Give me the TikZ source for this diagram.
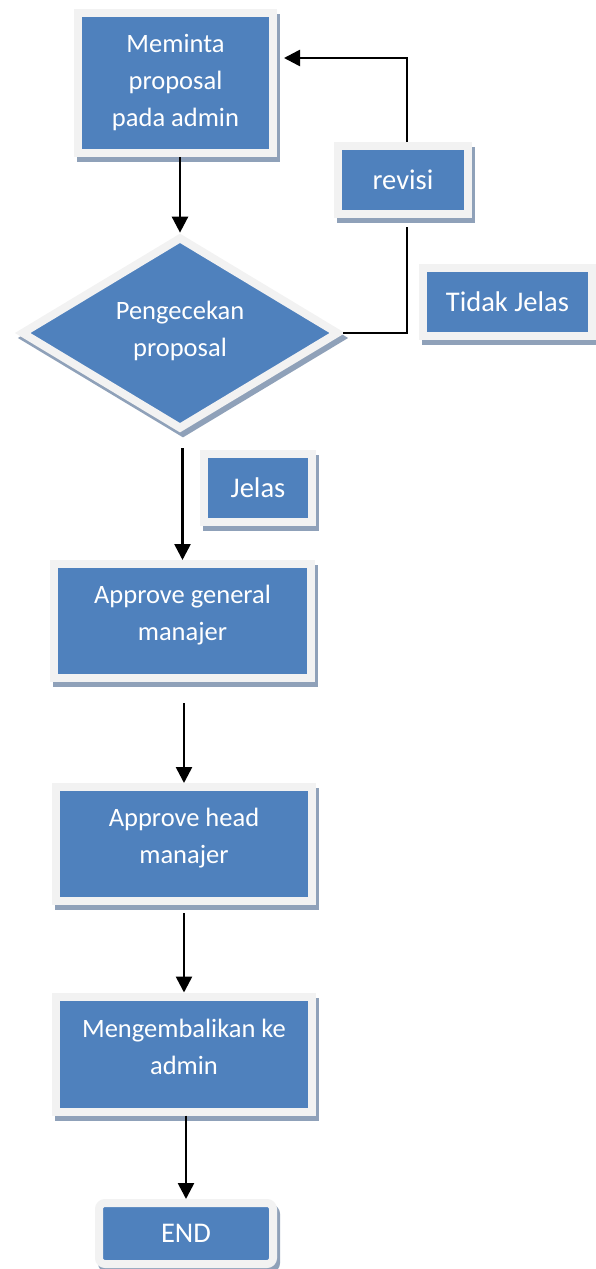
\documentclass[tikz,border=0pt]{standalone}
\usepackage{fontspec}
\setmainfont{Carlito}
\usetikzlibrary{positioning, calc, arrows.meta, shapes.geometric}

\definecolor{boxblue}{HTML}{4F81BD}
\definecolor{boxedge}{HTML}{F2F2F2}
\definecolor{boxshade}{HTML}{8FA1B9}
\newcommand{\textlift}[1]{\rule[-#1]{0pt}{0pt}}

\begin{document}
\begin{tikzpicture}[
    x=1pt, y=-1pt,
    box/.style={rectangle, fill=boxblue, draw=boxedge, line width=8pt, text=white, align=center, inner sep=0pt,
        font=\fontsize{26.5}{37}\selectfont,
        preaction={draw=boxshade, fill=boxshade, line width=8pt, transform canvas={shift={(3pt,-5pt)}}}},
    tag/.style={box, font=\fontsize{28.5}{34}\selectfont},
    decision/.style={box, diamond},
    arrow/.style={-{Triangle[width=16pt, length=16pt]}, line width=2.6pt},
    link/.style={line width=2.4pt}
]
    \useasboundingbox (0,0) rectangle (596,1269);

    % Request and check
    \node[box, minimum width=195pt, minimum height=140pt] (minta) at (175.5, 83) {Meminta\\proposal\\pada admin\textlift{4pt}};
    \node[decision, minimum width=318pt, minimum height=189pt] (cek) at (180, 333) {Pengecekan\\proposal\textlift{9pt}};

    % Revision loop
    \node[tag, minimum width=130pt, minimum height=68pt] (revisi) at (403, 180) {revisi};
    \node[tag, minimum width=169pt, minimum height=68pt] (tidak) at (507.5, 302) {Tidak Jelas};
    \node[tag, minimum width=108pt, minimum height=68pt] (jelas) at (258, 488) {Jelas};

    % Approval steps
    \node[box, minimum width=257pt, minimum height=114pt] (general) at (182.5, 621) {Approve general\\manajer\textlift{16pt}};
    \node[box, minimum width=256pt, minimum height=114pt] (head) at (184, 844) {Approve head\\manajer\textlift{16pt}};
    \node[box, minimum width=256pt, minimum height=115pt] (kembali) at (184, 1054) {Mengembalikan ke\\admin\textlift{14pt}};
    \node[tag, rounded corners=6pt, minimum width=174pt, minimum height=61pt] (end) at (186, 1233.5) {END};

    % Main flow
    \draw[arrow] (minta.south -| cek.north) -- (cek.north);
    \draw[arrow] ($(cek.south -| general.north)+(0,15)$) -- (general.north);
    \draw[arrow] ($(general.south -| head.north)+(0,21)$) -- (head.north);
    \draw[arrow] ($(head.south)+(0,8)$) -- (kembali.north);
    \draw[arrow] (kembali.south -| end.north) -- (end.north);

    % Back to request
    \draw[link] (cek.east) -| ($(revisi.south)+(4,9)$);
    \draw[arrow, shorten >=7pt] ($(revisi.north)+(4,0)$) |- ($(minta.east)+(0,-25)$);

\end{tikzpicture}
\end{document}
